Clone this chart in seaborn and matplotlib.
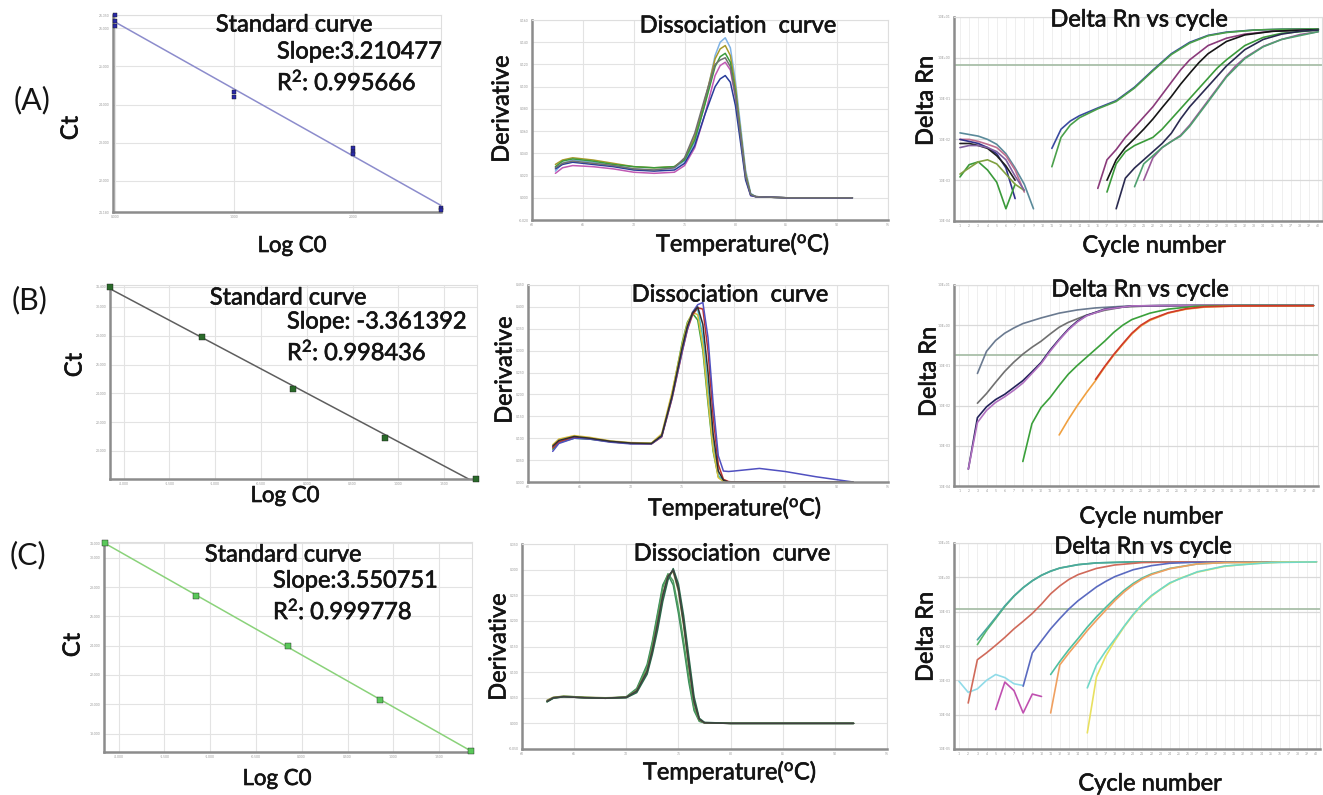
import numpy as np
import pandas as pd
import seaborn as sns
import matplotlib
matplotlib.use("Agg")
import matplotlib.pyplot as plt
import matplotlib.patheffects as pe
from matplotlib.ticker import FixedLocator, FuncFormatter, NullLocator

sns.set_style("white")
plt.rcParams["font.family"] = ["Lato", "DejaVu Sans"]
plt.rcParams["mathtext.fontset"] = "custom"
plt.rcParams["mathtext.rm"] = "Lato"
plt.rcParams["mathtext.it"] = "Lato:italic"
plt.rcParams["mathtext.bf"] = "Lato:bold"

# ---------------- standard curves (Log C0 vs Ct) ----------------
std_a_logc0 = [0, 0, 0, 1, 1, 2, 2, 2, 2.74, 2.74]
std_a_ct = [26.35, 26.18, 26.05, 24.32, 24.21, 22.87, 22.76, 22.71, 21.29, 21.24]
std_b_logc0 = [-2.15, -1.15, -0.15, 0.85, 1.85]
std_b_ct = [31.40, 27.93, 24.28, 20.92, 18.05]
std_c_logc0 = [-2.15, -1.15, -0.15, 0.85, 1.85]
std_c_ct = [30.99, 27.39, 24.00, 20.29, 16.81]

std_texts = [
    ("Slope:3.210477", "0.995666"),
    ("Slope: -3.361392", "0.998436"),
    ("Slope:3.550751", "0.999778"),
]

# ---------------- dissociation (melt) curves ----------------
melt_a_temp = [62.3, 63.0, 64.0, 66.0, 68.0, 70.0, 72.0, 74.0, 75.0, 76.0, 77.0, 78.0,
               78.5, 79.0, 79.5, 80.0, 80.5, 81.0, 81.5, 82.0, 85.0, 88.0, 91.5]
melt_a_deriv = [
    [0.024, 0.031, 0.034, 0.032, 0.029, 0.026, 0.025, 0.027, 0.033, 0.050, 0.085, 0.128, 0.140, 0.144, 0.135, 0.105, 0.065, 0.025, 0.004, 0.001, 0.000, 0.000, 0.000],
    [0.030, 0.034, 0.036, 0.034, 0.031, 0.028, 0.027, 0.028, 0.035, 0.055, 0.088, 0.125, 0.134, 0.137, 0.128, 0.100, 0.060, 0.022, 0.003, 0.001, 0.000, 0.000, 0.000],
    [0.028, 0.033, 0.035, 0.033, 0.030, 0.028, 0.027, 0.028, 0.034, 0.052, 0.084, 0.118, 0.127, 0.130, 0.122, 0.095, 0.058, 0.020, 0.003, 0.001, 0.000, 0.000, 0.000],
    [0.022, 0.027, 0.029, 0.028, 0.026, 0.023, 0.022, 0.023, 0.029, 0.045, 0.075, 0.110, 0.119, 0.122, 0.115, 0.090, 0.055, 0.018, 0.002, 0.001, 0.000, 0.000, 0.000],
    [0.026, 0.030, 0.032, 0.030, 0.028, 0.025, 0.024, 0.025, 0.031, 0.047, 0.075, 0.100, 0.107, 0.110, 0.104, 0.083, 0.050, 0.016, 0.002, 0.001, 0.000, 0.000, 0.000],
    [0.027, 0.031, 0.033, 0.031, 0.029, 0.026, 0.025, 0.027, 0.036, 0.058, 0.090, 0.120, 0.124, 0.126, 0.118, 0.092, 0.056, 0.019, 0.003, 0.001, 0.000, 0.000, 0.000],
]
melt_b_temp = [62.4, 63.0, 64.5, 66.0, 68.0, 70.0, 72.0, 73.0, 74.0, 75.0, 75.5, 76.0,
               76.5, 77.0, 77.5, 78.0, 78.5, 79.0, 79.5, 80.0, 82.5, 85.0, 88.0, 91.6]
melt_b_deriv = [
    [0.075, 0.090, 0.100, 0.098, 0.092, 0.088, 0.088, 0.105, 0.200, 0.320, 0.365, 0.385, 0.370, 0.300, 0.180, 0.070, 0.012, 0.002, 0.000, 0.000, 0.000, 0.000, 0.000, 0.000],
    [0.080, 0.093, 0.103, 0.100, 0.093, 0.089, 0.088, 0.108, 0.195, 0.305, 0.355, 0.385, 0.395, 0.330, 0.210, 0.085, 0.015, 0.002, 0.000, 0.000, 0.000, 0.000, 0.000, 0.000],
    [0.085, 0.098, 0.106, 0.102, 0.094, 0.090, 0.089, 0.110, 0.205, 0.315, 0.362, 0.388, 0.382, 0.310, 0.190, 0.075, 0.010, 0.001, 0.000, 0.000, 0.000, 0.000, 0.000, 0.000],
    [0.078, 0.092, 0.102, 0.099, 0.092, 0.088, 0.087, 0.103, 0.190, 0.298, 0.348, 0.382, 0.398, 0.395, 0.300, 0.150, 0.040, 0.006, 0.001, 0.000, 0.000, 0.000, 0.000, 0.000],
    [0.070, 0.088, 0.100, 0.098, 0.091, 0.087, 0.087, 0.104, 0.192, 0.300, 0.350, 0.388, 0.405, 0.410, 0.330, 0.180, 0.060, 0.025, 0.024, 0.025, 0.031, 0.024, 0.012, 0.000],
    [0.082, 0.095, 0.104, 0.100, 0.093, 0.089, 0.088, 0.106, 0.196, 0.308, 0.356, 0.386, 0.400, 0.360, 0.250, 0.110, 0.025, 0.004, 0.000, 0.000, 0.000, 0.000, 0.000, 0.000],
]
melt_c_temp = [62.4, 63.0, 64.0, 66.0, 68.0, 70.0, 71.0, 72.0, 72.5, 73.0, 73.5, 74.0,
               74.5, 75.0, 75.5, 76.0, 76.5, 77.0, 77.5, 80.0, 85.0, 91.8]
melt_c_deriv = [
    [0.042, 0.050, 0.052, 0.050, 0.049, 0.052, 0.068, 0.115, 0.160, 0.215, 0.270, 0.290, 0.270, 0.215, 0.150, 0.080, 0.025, 0.004, 0.001, 0.000, 0.000, 0.000],
    [0.044, 0.050, 0.053, 0.051, 0.049, 0.051, 0.066, 0.110, 0.155, 0.210, 0.265, 0.292, 0.278, 0.225, 0.160, 0.090, 0.030, 0.005, 0.001, 0.000, 0.000, 0.000],
    [0.043, 0.049, 0.052, 0.050, 0.049, 0.050, 0.062, 0.100, 0.140, 0.190, 0.245, 0.285, 0.300, 0.265, 0.200, 0.120, 0.045, 0.008, 0.001, 0.000, 0.000, 0.000],
    [0.045, 0.051, 0.053, 0.051, 0.050, 0.051, 0.064, 0.104, 0.146, 0.198, 0.252, 0.288, 0.296, 0.258, 0.190, 0.110, 0.040, 0.007, 0.001, 0.000, 0.000, 0.000],
    [0.042, 0.049, 0.052, 0.050, 0.049, 0.050, 0.060, 0.096, 0.135, 0.182, 0.238, 0.280, 0.302, 0.272, 0.210, 0.130, 0.052, 0.010, 0.002, 0.000, 0.000, 0.000],
    [0.043, 0.050, 0.052, 0.050, 0.049, 0.051, 0.063, 0.102, 0.143, 0.195, 0.250, 0.287, 0.299, 0.262, 0.196, 0.115, 0.042, 0.008, 0.001, 0.000, 0.000, 0.000],
]

# ---------------- amplification curves: cycle vs log10(Delta Rn) ----------------
amp_a_cycles = [
    [1, 2, 3, 4, 5, 6, 7, 8, 9],
    [1, 2, 3, 4, 5, 6, 7, 8],
    [1, 2, 3, 4, 5, 6, 7],
    [1, 2, 3, 4, 5, 6, 7],
    [1, 2, 3, 4, 5, 6, 7],
    [1, 2, 3, 4, 5, 6, 7, 8],
    [1, 2, 3, 4, 5, 6, 7, 8],
    [11, 12, 13, 14, 16, 18, 20, 22, 24, 26, 28, 30, 33, 36, 40],
    [11, 12, 13, 14, 16, 18, 20, 22, 24, 26, 28, 30, 33, 36, 40],
    [16, 17, 18, 19, 20, 21, 22, 23, 24, 25, 26, 28, 30, 32, 35, 40],
    [17, 18, 19, 20, 21, 22, 23, 24, 25, 26, 27, 28, 30, 32, 35, 40],
    [17, 18, 19, 20, 21, 22, 23, 24, 25, 26, 27, 28, 29, 30, 32, 34, 36, 40],
    [18, 19, 20, 21, 22, 23, 24, 25, 26, 27, 28, 29, 30, 32, 34, 36, 38, 40],
    [21, 22, 23, 24, 25, 26, 27, 28, 29, 30, 31, 32, 34, 36, 38, 40],
    [20, 21, 22, 23, 24, 25, 26, 27, 28, 30, 32, 34, 36, 40],
]
amp_a_log = [
    [-1.84, -1.88, -1.92, -2.0, -2.12, -2.35, -2.7, -3.1, -3.7],
    [-2.0, -2.0, -2.05, -2.12, -2.2, -2.4, -2.75, -3.29],
    [-2.0, -2.05, -2.1, -2.2, -2.35, -2.7, -3.45],
    [-2.1, -2.1, -2.15, -2.22, -2.4, -2.65, -3.0],
    [-2.92, -2.62, -2.55, -2.75, -3.05, -3.70, -3.1],
    [-2.85, -2.7, -2.55, -2.5, -2.6, -2.85, -3.1, -3.25],
    [-2.2, -2.15, -2.15, -2.2, -2.3, -2.5, -2.9, -3.25],
    [-2.22, -1.75, -1.55, -1.42, -1.23, -1.05, -0.72, -0.30, 0.10, 0.38, 0.55, 0.63, 0.68, 0.70, 0.71],
    [-2.67, -1.95, -1.65, -1.47, -1.25, -1.07, -0.74, -0.32, 0.08, 0.36, 0.54, 0.62, 0.68, 0.70, 0.71],
    [-3.2, -2.5, -2.25, -1.95, -1.7, -1.45, -1.2, -0.9, -0.6, -0.3, -0.05, 0.3, 0.48, 0.58, 0.65, 0.69],
    [-3.0, -2.5, -2.2, -1.98, -1.75, -1.5, -1.22, -0.95, -0.65, -0.38, -0.12, 0.1, 0.4, 0.56, 0.65, 0.69],
    [-3.29, -2.6, -2.3, -2.15, -2.05, -1.95, -1.75, -1.5, -1.25, -1.0, -0.75, -0.5, -0.25, -0.05, 0.3, 0.5, 0.6, 0.68],
    [-3.7, -2.95, -2.7, -2.5, -2.3, -2.1, -1.85, -1.5, -1.2, -0.95, -0.7, -0.45, -0.2, 0.2, 0.45, 0.58, 0.65, 0.68],
    [-3.0, -2.45, -2.2, -2.05, -1.9, -1.65, -1.35, -1.05, -0.75, -0.45, -0.2, 0.0, 0.28, 0.45, 0.57, 0.64],
    [-3.16, -2.6, -2.4, -2.2, -2.05, -1.92, -1.68, -1.38, -1.08, -0.47, -0.02, 0.27, 0.45, 0.64],
]
amp_b_cycles = [
    [3, 4, 5, 6, 7, 8, 10, 12, 14, 16, 19, 23, 30, 40],
    [3, 4, 5, 6, 7, 8, 9, 10, 11, 12, 13, 15, 17, 19, 22, 30, 40],
    [2, 3, 4, 5, 6, 7, 8, 9, 10, 11, 12, 13, 14, 15, 17, 20, 25, 40],
    [2, 3, 4, 5, 6, 7, 8, 9, 10, 11, 12, 13, 14, 15, 17, 20, 25, 40],
    [8, 9, 10, 11, 12, 13, 14, 15, 16, 17, 18, 19, 20, 22, 24, 27, 32, 40],
    [12, 13, 14, 15, 16, 17, 18, 19, 20, 21, 22, 24, 26, 28, 32, 40],
    [16, 17, 18, 19, 20, 21, 22, 24, 26, 28, 32, 40],
]
amp_b_log = [
    [-1.2, -0.65, -0.38, -0.2, -0.07, 0.04, 0.18, 0.3, 0.38, 0.43, 0.47, 0.49, 0.49, 0.49],
    [-1.94, -1.7, -1.42, -1.15, -0.92, -0.72, -0.55, -0.4, -0.22, -0.05, 0.07, 0.25, 0.37, 0.45, 0.48, 0.49, 0.49],
    [-3.58, -2.3, -2.03, -1.85, -1.72, -1.55, -1.38, -1.16, -0.93, -0.62, -0.35, -0.1, 0.1, 0.24, 0.4, 0.48, 0.49, 0.49],
    [-3.58, -2.42, -2.12, -1.92, -1.78, -1.62, -1.44, -1.2, -0.96, -0.65, -0.37, -0.12, 0.08, 0.23, 0.39, 0.48, 0.49, 0.49],
    [-3.39, -2.45, -2.05, -1.8, -1.5, -1.22, -1.0, -0.8, -0.6, -0.4, -0.18, 0.0, 0.14, 0.3, 0.4, 0.47, 0.49, 0.49],
    [-2.73, -2.35, -2.0, -1.68, -1.38, -1.05, -0.75, -0.48, -0.22, -0.02, 0.12, 0.3, 0.4, 0.45, 0.48, 0.48],
    [-1.35, -1.03, -0.73, -0.46, -0.2, 0.0, 0.14, 0.31, 0.41, 0.46, 0.48, 0.485],
]
amp_c_cycles = [
    [1, 2, 3, 4, 5, 6, 7, 8],
    [5, 6, 7, 8, 9, 10],
    [3, 4, 5, 6, 7, 8, 9, 10, 11, 12, 14, 16, 20, 30, 40],
    [3, 4, 5, 6, 7, 8, 9, 10, 11, 12, 14, 16, 20, 30, 40],
    [2, 3, 4, 5, 6, 7, 8, 9, 10, 11, 12, 13, 14, 16, 18, 21, 25, 40],
    [8, 9, 10, 11, 12, 13, 14, 15, 16, 17, 18, 20, 22, 24, 27, 35, 40],
    [11, 12, 13, 14, 15, 16, 17, 18, 19, 20, 21, 22, 24, 27, 30, 40],
    [11, 12, 13, 14, 15, 16, 17, 18, 19, 20, 21, 22, 24, 27, 30, 40],
    [15, 16, 17, 18, 19, 20, 21, 22, 23, 24, 25, 27, 30, 33, 36, 40],
    [15, 16, 17, 18, 19, 20, 21, 22, 24, 27, 30, 35, 40],
]
amp_c_log = [
    [-3.03, -3.35, -3.25, -3.0, -2.83, -2.92, -3.1, -3.15],
    [-3.85, -3.05, -3.3, -3.95, -3.4, -3.47],
    [-1.96, -1.55, -1.2, -0.85, -0.55, -0.3, -0.1, 0.06, 0.18, 0.27, 0.37, 0.42, 0.45, 0.45, 0.45],
    [-1.82, -1.5, -1.17, -0.83, -0.54, -0.3, -0.1, 0.06, 0.18, 0.27, 0.37, 0.42, 0.45, 0.45, 0.45],
    [-3.66, -2.4, -2.2, -1.98, -1.75, -1.5, -1.28, -1.05, -0.78, -0.48, -0.25, -0.06, 0.08, 0.26, 0.36, 0.43, 0.45, 0.45],
    [-3.17, -2.2, -1.85, -1.5, -1.2, -0.92, -0.68, -0.48, -0.28, -0.12, 0.02, 0.22, 0.34, 0.41, 0.44, 0.45, 0.45],
    [-2.83, -2.45, -2.1, -1.78, -1.45, -1.15, -0.88, -0.62, -0.38, -0.18, -0.02, 0.1, 0.26, 0.39, 0.43, 0.45],
    [-3.95, -2.55, -2.2, -1.88, -1.55, -1.25, -0.96, -0.68, -0.43, -0.22, -0.05, 0.08, 0.25, 0.39, 0.43, 0.45],
    [-4.53, -2.9, -2.3, -1.85, -1.45, -1.1, -0.8, -0.55, -0.35, -0.18, -0.04, 0.15, 0.32, 0.4, 0.44, 0.45],
    [-3.22, -2.55, -2.15, -1.8, -1.43, -1.08, -0.78, -0.53, -0.16, 0.16, 0.33, 0.43, 0.45],
]
amp_thresholds = [-0.17, -0.75, -0.92]

# colours
melt_a_colors = ["#7fb2e5", "#a89a2a", "#3c9a3c", "#c05ab4", "#283c9a", "#707070"]
melt_b_colors = ["#3aa03a", "#40c0d0", "#d8c040", "#c03030", "#5050c0", "#303030"]
melt_c_colors = ["#3a8a5a", "#50a060", "#808080", "#8a8a40", "#2a6a4a", "#404040"]
amp_a_colors = ["#5a8a9a", "#c07090", "#30308a", "#202020", "#3a9a3a", "#80a040", "#8060a0",
                "#3a4aa0", "#4aa04a", "#8a3a7a", "#151515", "#3a9a3a", "#2a2a50", "#9a5a9a", "#50a070"]
amp_b_colors = ["#6a7a90", "#707070", "#22225a", "#b070c0", "#3aa03a", "#f0a040", "#d03a2a"]
amp_c_colors = ["#90dbe8", "#c050b0", "#5ab86a", "#4aa8a0", "#d06a5a", "#5a6ac0",
                "#50c0a0", "#f0a060", "#e8e060", "#70d8c8"]

W, H = 1323, 795
fig = plt.figure(figsize=(W / 100, H / 100), dpi=100)
fig.patch.set_facecolor("white")

# slightly heavier strokes to imitate the dark, blurry text of the original
heavy = [pe.withStroke(linewidth=0.45, foreground="#141414")]


def px_axes(x0, y0, x1, y1):
    return fig.add_axes([x0 / W, 1 - y1 / H, (x1 - x0) / W, (y1 - y0) / H])


def px_text(x, y, s, effects=True, **kw):
    kw.setdefault("ha", "center")
    kw.setdefault("va", "center")
    fig.text(x / W, 1 - y / H, s, color="#141414",
             path_effects=heavy if effects else None, **kw)


def frame(ax):
    for side in ["left", "bottom"]:
        ax.spines[side].set_color("#8c8c8c")
        ax.spines[side].set_linewidth(1.8)
    for side in ["top", "right"]:
        ax.spines[side].set_color("#dedede")
        ax.spines[side].set_linewidth(0.8)
    ax.tick_params(labelsize=2.4, length=1.5, width=0.5, colors="#9a9a9a", pad=1)
    ax.set_axisbelow(True)
    ax.set_xlabel("")
    ax.set_ylabel("")


def standard_panel(ax, x, y, xlim, ylim, xticks, yticks, line_color, point_color, size):
    ax.set_xlim(xlim)
    ax.set_ylim(ylim)
    sns.regplot(x=x, y=y, ax=ax, ci=None, truncate=False, scatter=False,
                line_kws=dict(color=line_color, lw=1.1))
    sns.scatterplot(x=x, y=y, ax=ax, marker="s", s=size, color=point_color,
                    edgecolor="#1a1a1a", linewidth=0.3, clip_on=False, zorder=5)
    ax.set_xlim(xlim)
    ax.set_ylim(ylim)
    ax.xaxis.set_major_locator(FixedLocator(xticks))
    ax.yaxis.set_major_locator(FixedLocator(yticks))
    ax.xaxis.set_major_formatter(FuncFormatter(lambda v, _: f"{v:.3f}"))
    ax.yaxis.set_major_formatter(FuncFormatter(lambda v, _: f"{v:.3f}"))
    ax.grid(True, color="#e3e3e3", lw=0.8)
    frame(ax)


def melt_panel(ax, temps, curves, colors, ylim, yticks):
    rows = []
    for i, vals in enumerate(curves):
        for t, v in zip(temps, vals):
            rows.append((f"w{i}", t, v))
    df = pd.DataFrame(rows, columns=["well", "temp", "deriv"])
    sns.lineplot(data=df, x="temp", y="deriv", hue="well", palette=colors, legend=False,
                 estimator=None, ax=ax, lw=1.1)
    ax.set_xlim(60, 95)
    ax.set_ylim(ylim)
    ax.xaxis.set_major_locator(FixedLocator(range(60, 96, 5)))
    ax.yaxis.set_major_locator(FixedLocator(yticks))
    ax.xaxis.set_major_formatter(FuncFormatter(lambda v, _: f"{v:.0f}"))
    ax.yaxis.set_major_formatter(FuncFormatter(lambda v, _: f"{v:.3f}"))
    ax.grid(True, color="#e3e3e3", lw=0.8)
    frame(ax)


def amp_panel(ax, cycles, logs, colors, xlim, ydec, thr):
    ax.set_yscale("log")
    rows = []
    for i, (cs, ls) in enumerate(zip(cycles, logs)):
        for c, l in zip(cs, ls):
            rows.append((f"w{i}", c, 10.0 ** l))
    df = pd.DataFrame(rows, columns=["well", "cycle", "drn"])
    sns.lineplot(data=df, x="cycle", y="drn", hue="well", palette=colors, legend=False,
                 estimator=None, ax=ax, lw=1.2)
    ax.axhline(10.0 ** thr, color="#a9bfa9", lw=1.3, zorder=1)
    ax.set_xlim(xlim)
    ax.set_ylim(10.0 ** ydec[0], 10.0 ** ydec[1])
    ax.xaxis.set_major_locator(FixedLocator(range(1, 41)))
    ax.xaxis.set_major_formatter(FuncFormatter(lambda v, _: f"{v:.0f}"))
    ax.yaxis.set_major_locator(FixedLocator([10.0 ** k for k in range(ydec[0], ydec[1] + 1)]))
    ax.yaxis.set_minor_locator(NullLocator())
    ax.yaxis.set_major_formatter(FuncFormatter(lambda v, _: f"{v:.1E}"))
    ax.grid(True, axis="x", color="#efefef", lw=0.7)
    ax.grid(True, axis="y", color="#d9d9d9", lw=0.9)
    frame(ax)


# ---- row A ----
ax = px_axes(113, 15, 441, 212)
standard_panel(ax, std_a_logc0, std_a_ct, (-0.017, 2.74), (21.18, 26.35),
               [0, 1, 2], [21.18, 22, 23, 24, 25, 26, 26.35], "#8c8ccc", "#2a2aa8", 10)
ax = px_axes(532, 20, 888, 220)
melt_panel(ax, melt_a_temp, melt_a_deriv, melt_a_colors, (-0.02, 0.16),
           [-0.02, 0, 0.02, 0.04, 0.06, 0.08, 0.10, 0.12, 0.14, 0.16])
ax = px_axes(954, 17, 1322, 221)
amp_panel(ax, amp_a_cycles, amp_a_log, amp_a_colors, (0.35, 40.4), (-4, 1), amp_thresholds[0])

# ---- row B ----
ax = px_axes(110, 285, 477, 479)
standard_panel(ax, std_b_logc0, std_b_ct, (-2.15, 1.86), (18.05, 31.52),
               [-2.0, -1.5, -1.0, -0.5, 0.0, 0.5, 1.0, 1.5], [18, 20, 22, 24, 26, 28, 30, 31.4],
               "#5e5e5e", "#2a6a2a", 14)
ax = px_axes(528, 285, 888, 482)
melt_panel(ax, melt_b_temp, melt_b_deriv, melt_b_colors, (0, 0.45),
           [0, 0.05, 0.10, 0.15, 0.20, 0.25, 0.30, 0.35, 0.40, 0.45])
ax = px_axes(954, 285, 1318, 486)
amp_panel(ax, amp_b_cycles, amp_b_log, amp_b_colors, (0.42, 40.5), (-4, 1), amp_thresholds[1])

# ---- row C ----
ax = px_axes(104, 542, 472, 752)
standard_panel(ax, std_c_logc0, std_c_ct, (-2.16, 1.86), (16.74, 31.08),
               [-2.0, -1.5, -1.0, -0.5, 0.0, 0.5, 1.0, 1.5], [18, 20, 22, 24, 26, 28, 30, 31.0],
               "#8ad27a", "#5ac85a", 16)
ax = px_axes(522, 544, 887, 749)
melt_panel(ax, melt_c_temp, melt_c_deriv, melt_c_colors, (-0.05, 0.35),
           [-0.05, 0, 0.05, 0.10, 0.15, 0.20, 0.25, 0.30, 0.35])
ax = px_axes(954, 543, 1320, 749)
amp_panel(ax, amp_c_cycles, amp_c_log, amp_c_colors, (0.45, 40.4), (-5, 1), amp_thresholds[2])

# ---- texts ----
fs = 17
panel_tags = [("(A)", 32, 100), ("(B)", 30, 300), ("(C)", 28, 555)]
for tag, x, y in panel_tags:
    px_text(x, y, tag, effects=False, fontsize=22)

for x, y in ((71, 128), (75, 365), (73, 645)):
    px_text(x, y, "Ct", fontsize=fs, rotation=90)
for x, y in ((502, 109), (505, 370), (499, 647)):
    px_text(x, y, "Derivative", fontsize=fs, rotation=90)
for x, y in ((926, 101), (929, 372), (926, 637)):
    px_text(x, y, "Delta Rn", fontsize=fs, rotation=90)

for x, y in ((292, 246), (285, 496), (277, 779)):
    px_text(x, y, "Log C0", fontsize=fs - 1)
for x, y in ((743, 244), (735, 508), (730, 772)):
    px_text(x, y, r"Temperature($^{\mathrm{o}}$C)", fontsize=fs)
for x, y in ((1154, 246), (1151, 517), (1150, 784)):
    px_text(x, y, "Cycle number", fontsize=fs)

for x, y in ((294, 25), (288, 298), (283, 555)):
    px_text(x, y, "Standard curve", fontsize=fs)
for x, y in ((738, 26), (730, 295), (732, 554)):
    px_text(x, y, "Dissociation  curve", fontsize=fs)
for x, y in ((1139, 20), (1140, 290), (1143, 547)):
    px_text(x, y, "Delta Rn vs cycle", fontsize=fs)

slope_pos = [(277, 52, 81), (287, 322, 351), (273, 581, 610)]
for (slope, r2), (x, y1, y2) in zip(std_texts, slope_pos):
    px_text(x, y1, slope, fontsize=fs, ha="left")
    px_text(x, y2, r"R$^{2}$: " + r2, fontsize=fs, ha="left")

fig.savefig("out.png", dpi=100, facecolor="white")
